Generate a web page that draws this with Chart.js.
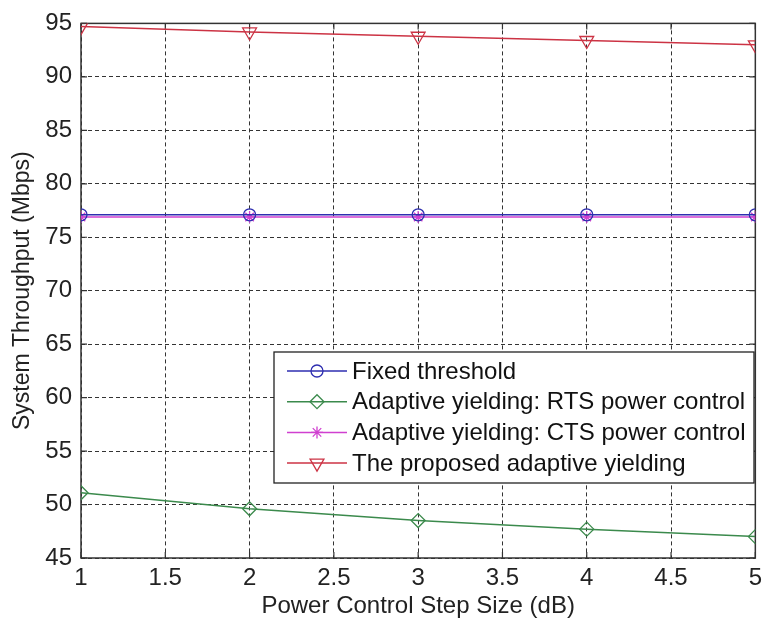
<!DOCTYPE html>
<html>
<head>
<meta charset="utf-8">
<script src="https://cdn.jsdelivr.net/npm/chart.js@4.4.0/dist/chart.umd.min.js"></script>
<style>
  html, body { margin: 0; padding: 0; background: #fff; }
  #wrap { width: 768px; height: 624px; }
</style>
</head>
<body>
<div id="wrap"><canvas id="throughputChart"></canvas></div>
<script>
// step sizes (dB) and throughput per scheme (Mbps)
var stepSizes = [1, 2, 3, 4, 5];
var fixedThreshold = [77.1, 77.1, 77.1, 77.1, 77.1];
var rtsPowerControl = [51.1, 49.6, 48.5, 47.7, 47.0];
var ctsPowerControl = [76.9, 76.9, 76.9, 76.9, 76.9];
var proposedYielding = [94.7, 94.2, 93.8, 93.4, 93.0];

var seriesNames = [
  "Fixed threshold",
  "Adaptive yielding: RTS power control",
  "Adaptive yielding: CTS power control",
  "The proposed adaptive yielding"
];

var FONT = "'Liberation Sans', Arial, sans-serif";

function toPoints(values) {
  return stepSizes.map(function (x, i) { return { x: x, y: values[i] }; });
}

function makeSet(label, values, color, style, radius, rotation) {
  return {
    label: label,
    data: toPoints(values),
    borderColor: color,
    backgroundColor: "rgba(0,0,0,0)",
    borderWidth: 1.5,
    pointStyle: style,
    pointRadius: radius,
    pointRotation: rotation || 0,
    pointBorderColor: color,
    pointBorderWidth: 1.3,
    pointBackgroundColor: "rgba(0,0,0,0)",
    tension: 0,
    fill: false
  };
}

// box, inward ticks on all four sides
var framePlugin = {
  id: "frame",
  beforeDatasetsDraw: function (chart) {
    var ctx = chart.ctx;
    var a = chart.chartArea;
    var xs = chart.scales.x, ys = chart.scales.y;
    ctx.save();
    ctx.strokeStyle = "#333";
    ctx.lineWidth = 1.5;
    ctx.setLineDash([]);
    ctx.strokeRect(a.left, a.top, a.right - a.left, a.bottom - a.top);
    ctx.lineWidth = 1.2;
    ctx.beginPath();
    xs.ticks.forEach(function (t) {
      var px = xs.getPixelForValue(t.value);
      ctx.moveTo(px, a.bottom); ctx.lineTo(px, a.bottom - 6);
      ctx.moveTo(px, a.top); ctx.lineTo(px, a.top + 6);
    });
    ys.ticks.forEach(function (t) {
      var py = ys.getPixelForValue(t.value);
      ctx.moveTo(a.left, py); ctx.lineTo(a.left + 6, py);
      ctx.moveTo(a.right, py); ctx.lineTo(a.right - 6, py);
    });
    ctx.stroke();
    ctx.restore();
  }
};

// matlab-style boxed legend inside the plot
var boxLegend = {
  id: "boxLegend",
  afterDraw: function (chart) {
    var ctx = chart.ctx;
    var x0 = 274, y0 = 352, w = 480, h = 131;
    var rowH = 30.7;
    ctx.save();
    ctx.fillStyle = "#fff";
    ctx.fillRect(x0, y0, w, h);
    ctx.strokeStyle = "#222";
    ctx.lineWidth = 1.3;
    ctx.strokeRect(x0, y0, w, h);
    ctx.font = "24px " + FONT;
    ctx.textBaseline = "middle";
    ctx.textAlign = "left";
    chart.data.datasets.forEach(function (ds, i) {
      var cy = y0 + 19 + i * rowH;
      ctx.strokeStyle = ds.borderColor;
      ctx.lineWidth = 1.5;
      ctx.beginPath();
      ctx.moveTo(x0 + 13, cy);
      ctx.lineTo(x0 + 73, cy);
      ctx.stroke();
      ctx.lineWidth = ds.pointBorderWidth;
      ctx.fillStyle = "rgba(0,0,0,0)";
      Chart.helpers.drawPoint(ctx, {
        pointStyle: ds.pointStyle,
        rotation: ds.pointRotation,
        radius: ds.pointRadius,
        borderWidth: ds.pointBorderWidth
      }, x0 + 43, cy);
      ctx.fillStyle = "#111";
      ctx.fillText(ds.label, x0 + 78, cy + 1);
    });
    ctx.restore();
  }
};

var chartData = {
  datasets: [
    makeSet(seriesNames[0], fixedThreshold, "#2e2eb0", "circle", 6),
    makeSet(seriesNames[1], rtsPowerControl, "#3b8a4c", "rectRot", 7),
    makeSet(seriesNames[2], ctsPowerControl, "#d040d0", "star", 6),
    makeSet(seriesNames[3], proposedYielding, "#cc3344", "triangle", 8, 180)
  ]
};

new Chart(document.getElementById("throughputChart").getContext("2d"), {
  type: "line",
  data: chartData,
  options: {
    responsive: true,
    maintainAspectRatio: false,
    animation: false,
    layout: { padding: { top: 21, right: 10, left: 0, bottom: 0 } },
    plugins: {
      legend: { display: false },
      tooltip: { enabled: false }
    },
    scales: {
      x: {
        type: "linear",
        min: 1,
        max: 5,
        ticks: {
          stepSize: 0.5,
          padding: 6,
          color: "#222",
          font: { family: FONT, size: 24 },
          maxRotation: 0,
          callback: function (v) { return String(v); }
        },
        grid: { color: "#333", lineWidth: 1, drawTicks: false },
        border: { display: false, dash: [4, 3] },
        title: {
          display: true,
          text: "Power Control Step Size (dB)",
          color: "#222",
          font: { family: FONT, size: 24 },
          padding: { top: 0, bottom: 3 }
        },
        afterFit: function (scale) { scale.height = 66; }
      },
      y: {
        min: 45,
        max: 95,
        ticks: {
          stepSize: 5,
          padding: 9,
          color: "#222",
          font: { family: FONT, size: 24 }
        },
        grid: { color: "#333", lineWidth: 1, drawTicks: false },
        border: { display: false, dash: [4, 3] },
        title: {
          display: true,
          text: "System Throughput (Mbps)",
          color: "#222",
          font: { family: FONT, size: 23 },
          padding: { top: 9, bottom: 0 }
        },
        afterFit: function (scale) { scale.width = 81; }
      }
    }
  },
  plugins: [framePlugin, boxLegend]
});
</script>
</body>
</html>
